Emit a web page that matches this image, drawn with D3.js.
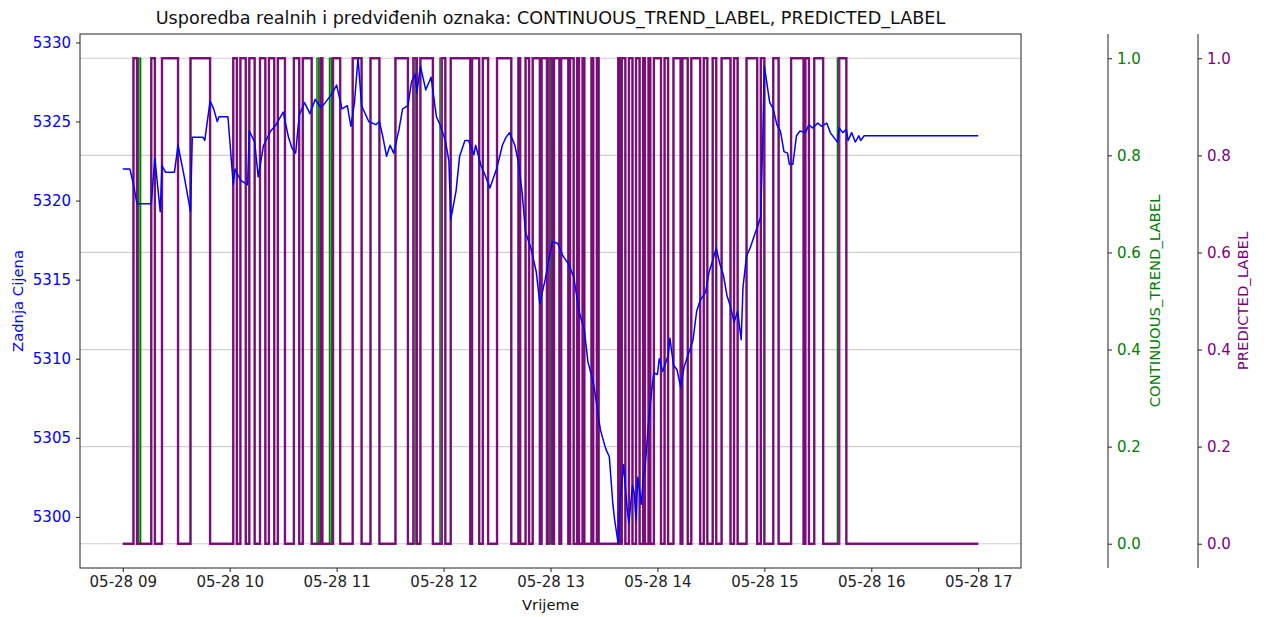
<!DOCTYPE html>
<html>
<head>
<meta charset="utf-8">
<script src="https://cdn.jsdelivr.net/npm/d3@7"></script>
<style>
  body { margin: 0; background: #fff; }
  svg { font-family: "DejaVu Sans", sans-serif; }
</style>
</head>
<body>
<svg id="chart" width="1266" height="617"></svg>
<script>
'use strict';

// minutes after 05-28 09:00
var priceMinutes = [0, 4, 6, 8, 16, 18, 21, 22, 24, 29, 31, 34, 35, 38, 39, 45, 46, 49, 51, 53, 54, 59, 62, 63, 66, 70, 71, 74, 76, 79, 83, 86, 88, 90, 93, 95, 97, 99, 102, 105, 108, 111, 113, 117, 120, 123, 126, 128, 130, 132, 134, 138, 142, 144, 146, 148, 150, 152, 155, 157, 160, 162, 164, 165, 167, 170, 173, 176, 178, 181, 183, 184, 187, 189, 192, 194, 197, 198, 201, 203, 206, 210, 213, 215, 217, 220, 222, 224, 226, 229, 232, 234, 237, 239, 241, 244, 247, 250, 253, 256, 259, 261, 264, 265, 268, 271, 273, 275, 276, 278, 279, 281, 283, 284, 286, 287, 288, 289, 291, 292, 293, 295, 297, 298, 300, 301, 303, 306, 307, 309, 311, 313, 315, 318, 320, 322, 324, 327, 329, 331, 333, 335, 337, 339, 341, 343, 345, 347, 348, 350, 352, 355, 356, 358, 359, 360, 363, 365, 367, 369, 371, 373, 374, 376, 378, 380, 383, 385, 387, 390, 392, 395, 397, 399, 401, 402, 404, 406, 407, 409, 411, 413, 414, 416, 480];
var priceValues = [5322.0, 5322.0, 5321.0, 5319.8, 5319.8, 5322.7, 5319.3, 5322.2, 5321.8, 5321.8, 5323.5, 5321.8, 5321.2, 5319.3, 5324.0, 5324.0, 5323.8, 5326.3, 5325.8, 5325.0, 5325.3, 5325.3, 5321.0, 5322.0, 5321.3, 5321.0, 5324.4, 5323.7, 5321.5, 5323.5, 5324.4, 5324.8, 5325.2, 5325.6, 5324.0, 5323.3, 5323.0, 5325.4, 5326.2, 5325.5, 5326.4, 5325.9, 5326.1, 5326.7, 5327.3, 5325.8, 5326.0, 5324.7, 5326.2, 5329.0, 5326.0, 5325.0, 5324.8, 5325.0, 5324.0, 5322.8, 5323.5, 5323.0, 5324.5, 5325.8, 5326.0, 5327.5, 5328.0, 5326.8, 5328.5, 5327.0, 5327.8, 5325.3, 5324.8, 5323.8, 5322.5, 5318.8, 5320.6, 5322.8, 5323.8, 5323.8, 5322.9, 5323.5, 5322.2, 5321.7, 5320.8, 5322.1, 5323.5, 5324.0, 5324.3, 5323.5, 5322.4, 5320.6, 5318.0, 5317.0, 5315.5, 5313.5, 5315.0, 5316.2, 5317.4, 5317.3, 5316.5, 5316.0, 5315.2, 5313.0, 5311.8, 5309.8, 5308.5, 5307.8, 5305.5, 5304.3, 5303.8, 5300.8, 5299.8, 5298.3, 5301.0, 5303.3, 5300.5, 5299.6, 5302.0, 5301.5, 5299.8, 5302.5, 5300.8, 5302.5, 5303.0, 5306.0, 5308.2, 5309.1, 5309.0, 5310.0, 5309.2, 5310.2, 5311.3, 5309.6, 5309.3, 5308.2, 5309.5, 5310.5, 5311.2, 5313.0, 5313.7, 5314.2, 5315.5, 5316.2, 5317.0, 5316.0, 5315.3, 5314.0, 5313.3, 5312.3, 5313.0, 5311.2, 5314.5, 5316.5, 5317.0, 5318.0, 5318.3, 5319.0, 5323.5, 5328.5, 5326.2, 5325.8, 5324.8, 5324.4, 5323.1, 5323.0, 5322.3, 5322.3, 5324.1, 5324.4, 5324.3, 5324.8, 5324.6, 5324.9, 5324.7, 5324.9, 5324.3, 5324.0, 5323.7, 5324.6, 5324.3, 5324.5, 5323.8, 5324.3, 5323.7, 5324.1, 5323.8, 5324.1, 5324.1];

// [from, to] minute ranges where the label is 1
var predictedOnes = [[6, 8], [16, 18], [22, 31], [38, 49], [62, 64], [66, 69], [71, 74], [77, 80], [82, 85], [87, 91], [96, 99], [101, 106], [111, 112], [118, 122], [129, 134], [139, 144], [153, 160], [163, 165], [167, 174], [179, 181], [184, 195], [196, 200], [202, 205], [210, 218], [222, 223], [226, 228], [230, 234], [235, 238], [239, 241], [242, 245], [246, 250], [251, 253], [255, 256], [258, 259], [263, 264], [266, 267], [278, 279], [280, 282], [284, 286], [288, 290], [292, 293], [295, 296], [298, 302], [304, 306], [309, 313], [314, 317], [319, 324], [326, 328], [331, 333], [336, 341], [343, 345], [350, 356], [358, 360], [365, 368], [375, 382], [383, 385], [388, 393], [402, 406]];
var continuousOnes = [[6, 8], [9, 10], [16, 18], [22, 31], [38, 49], [62, 64], [66, 69], [71, 74], [77, 80], [82, 85], [87, 91], [96, 99], [101, 106], [109, 110], [111, 112], [116, 117], [118, 122], [129, 134], [139, 144], [153, 160], [164, 165], [167, 174], [178, 181], [184, 195], [196, 200], [202, 205], [210, 218], [222, 223], [226, 228], [230, 234], [235, 238], [240, 241], [242, 245], [246, 250], [251, 253], [255, 256], [258, 259], [263, 264], [266, 267], [278, 279], [280, 282], [284, 286], [288, 290], [292, 293], [295, 296], [298, 302], [304, 306], [309, 313], [314, 317], [319, 324], [326, 328], [331, 333], [336, 341], [343, 345], [350, 356], [358, 360], [365, 368], [375, 382], [383, 385], [388, 393], [401, 406]];
var labelTicks = [0, 0.2, 0.4, 0.6, 0.8, 1.0];

var titleText = 'Usporedba realnih i predviđenih oznaka: CONTINUOUS_TREND_LABEL, PREDICTED_LABEL';

var plot = {left: 80, top: 34, right: 1021, bottom: 568};
var greenAxisX = 1108, purpleAxisX = 1198;
var t0 = Date.UTC(2024, 4, 28, 9, 0);

var toDate = function(m) {
  return new Date(t0 + m * 60000);
};

// matplotlib style 5% margins
var padded = function(ext) {
  var p = (ext[1] - ext[0]) * 0.05;
  return [ext[0] - p, ext[1] + p];
};

var stepPoints = function(ones, end) {
  var pts = [[0, 0]];
  ones.forEach(function(d) {
    pts.push([d[0], 1]);
    pts.push([d[1], 0]);
  });
  pts.push([end, 0]);
  return pts;
};

var svg = d3.select('#chart');
var endMinute = d3.max(priceMinutes);

var mDom = padded(d3.extent(priceMinutes));
var x = d3.scaleUtc().domain([toDate(mDom[0]), toDate(mDom[1])]).range([plot.left, plot.right]);
var y = d3.scaleLinear().domain(padded(d3.extent(priceValues))).range([plot.bottom, plot.top]);
var yLab = d3.scaleLinear().domain(padded([0, 1])).range([plot.bottom, plot.top]);

// grid from the label axes
svg.append('g').selectAll('line').data(labelTicks).enter().append('line')
  .attr('x1', plot.left).attr('x2', plot.right)
  .attr('y1', function(d) { return yLab(d); })
  .attr('y2', function(d) { return yLab(d); })
  .attr('stroke', '#cfcfcf').attr('stroke-width', 1.2);

var stepLine = d3.line()
  .x(function(d) { return x(toDate(d[0])); })
  .y(function(d) { return yLab(d[1]); })
  .curve(d3.curveStepAfter);

svg.append('path').datum(stepPoints(continuousOnes, endMinute))
  .attr('d', stepLine).attr('fill', 'none')
  .attr('stroke', 'green').attr('stroke-width', 1.5);

svg.append('path').datum(stepPoints(predictedOnes, endMinute))
  .attr('d', stepLine).attr('fill', 'none')
  .attr('stroke', 'purple').attr('stroke-opacity', 0.9).attr('stroke-width', 2.4);

var priceLine = d3.line()
  .x(function(d, i) { return x(toDate(priceMinutes[i])); })
  .y(function(d) { return y(d); });

svg.append('path').datum(priceValues)
  .attr('d', priceLine).attr('fill', 'none')
  .attr('stroke', 'blue').attr('stroke-width', 1.5).attr('stroke-linejoin', 'round');

// frame
svg.append('rect')
  .attr('x', plot.left).attr('y', plot.top)
  .attr('width', plot.right - plot.left).attr('height', plot.bottom - plot.top)
  .attr('fill', 'none').attr('stroke', '#222').attr('stroke-width', 1);

var styleAxis = function(g, color) {
  g.select('.domain').remove();
  g.selectAll('.tick line').attr('stroke', '#222').attr('stroke-width', 1);
  g.selectAll('.tick text').attr('fill', color).style('font-size', '15px')
    .style('font-family', '"DejaVu Sans", sans-serif');
};

var hours = d3.utcHour.range(toDate(0), toDate(endMinute + 1));
svg.append('g').attr('transform', 'translate(0,' + plot.bottom + ')')
  .call(d3.axisBottom(x).tickValues(hours).tickFormat(d3.utcFormat('%m-%d %H')).tickSize(4).tickPadding(4))
  .call(styleAxis, '#222');

svg.append('g').attr('transform', 'translate(' + plot.left + ',0)')
  .call(d3.axisLeft(y).ticks(7).tickFormat(d3.format('d')).tickSize(4).tickPadding(5))
  .call(styleAxis, 'blue');

var rightAxis = function(xpos, color) {
  var g = svg.append('g').attr('transform', 'translate(' + xpos + ',0)')
    .call(d3.axisRight(yLab).tickValues(labelTicks).tickFormat(d3.format('.1f')).tickSize(4).tickPadding(5))
    .call(styleAxis, color);
  g.append('line').attr('y1', plot.top).attr('y2', plot.bottom)
    .attr('stroke', '#222').attr('stroke-width', 1);
};
rightAxis(greenAxisX, 'green');
rightAxis(purpleAxisX, 'purple');

// texts
svg.append('text').attr('x', (plot.left + plot.right) / 2).attr('y', 24)
  .attr('text-anchor', 'middle').style('font-size', '17.6px').attr('fill', '#111')
  .text(titleText);

svg.append('text').attr('x', (plot.left + plot.right) / 2).attr('y', 610)
  .attr('text-anchor', 'middle').style('font-size', '14.8px').attr('fill', '#111')
  .text('Vrijeme');

var vLabel = function(xpos, txt, color) {
  svg.append('text')
    .attr('transform', 'translate(' + xpos + ',' + (plot.top + plot.bottom) / 2 + ') rotate(-90)')
    .attr('text-anchor', 'middle').attr('dy', '0.35em')
    .style('font-size', '14.8px').attr('fill', color)
    .text(txt);
};
vLabel(18, 'Zadnja Cijena', 'blue');
vLabel(1155, 'CONTINUOUS_TREND_LABEL', 'green');
vLabel(1243, 'PREDICTED_LABEL', 'purple');
</script>
</body>
</html>
